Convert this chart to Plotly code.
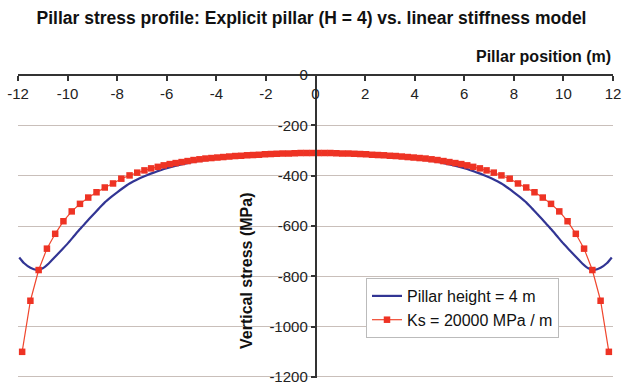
import plotly.graph_objects as go

# Explicit pillar (H = 4 m) - smooth profile
blue_x = [-11.95, -11.75, -11.5, -11.25, -11.0, -10.75, -10.5, -10.25, -10.0, -9.75,
          -9.5, -9.25, -9.0, -8.75, -8.5, -8.25, -8.0, -7.75, -7.5, -7.25,
          -7.0, -6.75, -6.5, -6.25, -6.0, -5.5, -5.0, -4.5, -4.0, -3.5,
          -3.0, -2.5, -2.0, -1.5, -1.0, -0.5, 0.0,
          0.5, 1.0, 1.5, 2.0, 2.5, 3.0, 3.5, 4.0, 4.5, 5.0, 5.5, 6.0,
          6.25, 6.5, 6.75, 7.0, 7.25, 7.5, 7.75, 8.0, 8.25, 8.5, 8.75,
          9.0, 9.25, 9.5, 9.75, 10.0, 10.25, 10.5, 10.75, 11.0, 11.25,
          11.5, 11.75, 11.95]
blue_y = [-725, -748, -766, -774, -768, -748, -722, -696, -670, -641,
          -612, -585, -558, -532, -506, -485, -466, -448, -431, -418,
          -406, -396, -387, -378, -370, -357, -346, -338, -332, -327,
          -323, -319, -316, -314, -312, -311, -311,
          -311, -312, -314, -316, -319, -323, -327, -332, -338, -346, -357, -370,
          -378, -387, -396, -406, -418, -431, -448, -466, -485, -506, -532,
          -558, -585, -612, -641, -670, -696, -722, -748, -768, -774,
          -766, -748, -725]

# Linear stiffness model (Ks = 20000 MPa/m) - element values
red_x = [-11.833, -11.5, -11.167, -10.833, -10.5, -10.167, -9.833, -9.5, -9.167, -8.833,
         -8.5, -8.167, -7.833, -7.5, -7.19, -6.9, -6.63, -6.36, -6.12, -5.88,
         -5.64, -5.4, -5.16, -4.92, -4.68, -4.44, -4.2, -3.96, -3.72, -3.48,
         -3.24, -3.0, -2.76, -2.52, -2.28, -2.04, -1.8, -1.56, -1.32, -1.08,
         -0.84, -0.6, -0.36, -0.12,
         0.12, 0.36, 0.6, 0.84, 1.08, 1.32, 1.56, 1.8, 2.04, 2.28,
         2.52, 2.76, 3.0, 3.24, 3.48, 3.72, 3.96, 4.2, 4.44, 4.68,
         4.92, 5.16, 5.4, 5.64, 5.88, 6.12, 6.36, 6.63, 6.9, 7.19,
         7.5, 7.833, 8.167, 8.5, 8.833, 9.167, 9.5, 9.833, 10.167, 10.5,
         10.833, 11.167, 11.5, 11.833]
red_y = [-1100, -897, -775, -690, -631, -581, -542, -512, -487, -466,
         -447, -431, -412, -399, -388, -379, -371, -365, -359, -354,
         -350, -346, -342, -338, -335, -332, -330, -328, -326, -324,
         -322, -321, -319, -318, -317, -315, -314, -313, -312, -312,
         -311, -310, -310, -310,
         -310, -310, -310, -311, -312, -312, -313, -314, -315, -317,
         -318, -319, -321, -322, -324, -326, -328, -330, -332, -335,
         -338, -342, -346, -350, -354, -359, -365, -371, -379, -388,
         -399, -412, -431, -447, -466, -487, -512, -542, -581, -631,
         -690, -775, -897, -1100]

x_ticks = [-12, -10, -8, -6, -4, -2, 0, 2, 4, 6, 8, 10, 12]
y_ticks = [0, -200, -400, -600, -800, -1000, -1200]

FONT = "Liberation Sans, Arial, sans-serif"
TOP, PLOT_H = 75, 303

fig = go.Figure()
fig.add_trace(go.Scatter(x=blue_x, y=blue_y, mode="lines", name="Pillar height = 4 m",
                         line=dict(color="#323594", width=2.2, shape="spline", smoothing=0.6)))
fig.add_trace(go.Scatter(x=red_x, y=red_y, mode="lines+markers", name="Ks = 20000 MPa / m",
                         line=dict(color="#F0472E", width=1.2),
                         marker=dict(symbol="square", size=6.5, color="#EE3324")))

fig.update_layout(
    width=623, height=384,
    margin=dict(l=18, r=10, t=TOP, b=6, autoexpand=False),
    paper_bgcolor="white", plot_bgcolor="white",
    font=dict(family=FONT, color="#222222", size=15),
    title=dict(text="<b>Pillar stress profile: Explicit pillar (H = 4) vs. linear stiffness model</b>",
               x=0.5, xanchor="center", y=0.953, yanchor="middle",
               font=dict(family=FONT, size=17.5, color="#111111")),
    xaxis=dict(range=[-12, 12], tickvals=x_ticks, ticktext=[str(v) for v in x_ticks],
               anchor="free", position=1, side="bottom", automargin=False,
               showline=True, linecolor="#333333", linewidth=1.5,
               ticks="outside", ticklen=5, tickcolor="#333333", tickwidth=1.5,
               showgrid=False, zeroline=False, ticklabeloverflow="allow",
               tickfont=dict(size=15, color="#222222")),
    yaxis=dict(range=[-1204, 0], tickvals=y_ticks, ticktext=[str(v) for v in y_ticks],
               anchor="free", position=0.5, side="left", automargin=False,
               showline=True, linecolor="#333333", linewidth=1.5,
               ticks="outside", ticklen=4, tickcolor="#333333", tickwidth=1.5,
               showgrid=True, gridcolor="#C9BFBA", gridwidth=1.2, zeroline=False,
               ticklabeloverflow="allow",
               tickfont=dict(size=15, color="#222222")),
    legend=dict(x=(366 - 18) / 595, y=1 - (278 - TOP) / PLOT_H, xanchor="left", yanchor="top",
                bgcolor="white", bordercolor="#BBBBBB", borderwidth=1,
                font=dict(family=FONT, size=16, color="#111111"),
                tracegroupgap=0, itemwidth=30),
    showlegend=True,
)

fig.add_annotation(text="<b>Pillar position (m)</b>", xref="paper", yref="paper",
                   x=1.0, y=1.0, xanchor="right", yanchor="bottom", yshift=8,
                   showarrow=False, font=dict(family=FONT, size=16, color="#111111"))
fig.add_annotation(text="<b>Vertical stress (MPa)</b>", xref="paper", yref="paper",
                   x=(246 - 18) / 595, y=1 - (271 - TOP) / PLOT_H, textangle=-90,
                   xanchor="center", yanchor="middle",
                   showarrow=False, font=dict(family=FONT, size=16, color="#111111"))

fig.write_html("out.html")
